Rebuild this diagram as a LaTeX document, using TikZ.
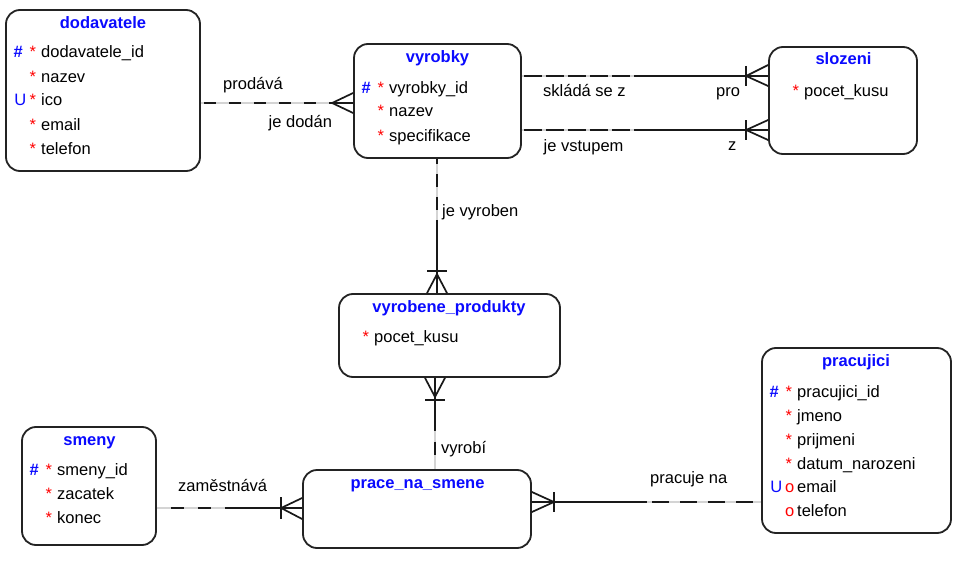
\documentclass[tikz,border=0pt]{standalone}
\usepackage{fontspec}
\setmainfont{Liberation Sans}
\usetikzlibrary{calc}
\definecolor{titleblue}{RGB}{10,10,255}
\definecolor{keyred}{RGB}{255,0,0}
\definecolor{boxline}{RGB}{35,35,35}
\definecolor{gapgray}{RGB}{212,212,212}
\begin{document}
\begin{tikzpicture}[x=1pt,y=-1pt,
  entity/.style={draw=boxline, line width=1.8pt, rounded corners=14pt, fill=white, inner sep=0pt},
  ttl/.style={anchor=base, inner sep=0pt, font=\fontsize{16.5}{20}\selectfont\bfseries, text=titleblue},
  attr/.style={anchor=base west, inner sep=0pt, font=\fontsize{16.5}{20}\selectfont},
  pk/.style={attr, text=titleblue},
  pkhash/.style={attr, text=titleblue, font=\fontsize{16.5}{20}\selectfont\bfseries},
  mand/.style={attr, text=keyred},
  lbl/.style={attr},
  rel/.style={line width=1.8pt, draw=black!90},
  gapline/.style={line width=1.8pt, draw=gapgray},
  foot/.style={line width=1.7pt, draw=black!90},
]
\useasboundingbox (0,0) rectangle (959,586);

% ---------- entities ----------
\node[entity, minimum width=194pt, minimum height=161pt] (dodavatele) at (103,90.5) {};
\node[entity, minimum width=167pt, minimum height=114pt] (vyrobky) at (437.5,101) {};
\node[entity, minimum width=148pt, minimum height=107pt] (slozeni) at (843,100.5) {};
\node[entity, minimum width=221pt, minimum height=83pt] (vyrobene_produkty) at (449.5,335.5) {};
\node[entity, minimum width=134pt, minimum height=118pt] (smeny) at (89,486) {};
\node[entity, minimum width=228pt, minimum height=78pt] (prace_na_smene) at (417,509) {};
\node[entity, minimum width=189pt, minimum height=185pt] (pracujici) at (856.5,440.5) {};

% dodavatele
\node[ttl] (dod-t) at (103,29) {dodavatele};
\foreach \t [count=\i] in {dodavatele\_id, nazev, ico, email, telefon}{
  \node[attr] (dod-a\i) at (41,34+24*\i) {\t};
  \node[mand] (dod-m\i) at (29.3,34+24*\i) {*};
}
\node[pkhash] (dod-k1) at (13.5,58) {\#};
\node[pk] (dod-u3) at (14.2,106) {U};

% vyrobky
\node[ttl] (vyr-t) at (437.5,62.3) {vyrobky};
\foreach \t [count=\i] in {vyrobky\_id, nazev, specifikace}{
  \node[attr] (vyr-a\i) at (389,69+24*\i) {\t};
  \node[mand] (vyr-m\i) at (377.3,69+24*\i) {*};
}
\node[pkhash] (vyr-k1) at (361.5,93) {\#};

% slozeni
\node[ttl] (slo-t) at (843.5,65) {slozeni};
\node[attr] (slo-a1) at (804,96) {pocet\_kusu};
\node[mand] (slo-m1) at (792.3,96) {*};

% vyrobene_produkty
\node[ttl] (vp-t) at (449,312) {vyrobene\_produkty};
\node[attr] (vp-a1) at (374,342) {pocet\_kusu};
\node[mand] (vp-m1) at (362.3,342) {*};

% smeny
\node[ttl] (sm-t) at (89.5,445) {smeny};
\foreach \t [count=\i] in {smeny\_id, zacatek, konec}{
  \node[attr] (sm-a\i) at (57,451+24*\i) {\t};
  \node[mand] (sm-m\i) at (45.3,451+24*\i) {*};
}
\node[pkhash] (sm-k1) at (29.5,475) {\#};

% prace_na_smene
\node[ttl] (pns-t) at (417.5,488) {prace\_na\_smene};

% pracujici
\node[ttl] (pr-t) at (856,366.5) {pracujici};
\foreach \t [count=\i] in {pracujici\_id, jmeno, prijmeni, datum\_narozeni}{
  \node[attr] (pr-a\i) at (797,373+24*\i) {\t};
  \node[mand] (pr-m\i) at (785.3,373+24*\i) {*};
}
\node[pkhash] (pr-k1) at (769.5,397) {\#};
\node[attr] (pr-a5) at (797,492.5) {email};
\node[mand] (pr-o5) at (784.8,492.5) {o};
\node[pk] (pr-u5) at (770.2,492.5) {U};
\node[attr] (pr-a6) at (797,516.5) {telefon};
\node[mand] (pr-o6) at (784.8,516.5) {o};

% ---------- relationships ----------
% dodavatele -- vyrobky (optional on both sides, many vyrobky)
\coordinate (r1s) at (dodavatele.east |- 0,103);
\coordinate (r1e) at (vyrobky.west |- 0,103);
\coordinate (r1a) at ($(r1e)+(-21,0)$);
\draw[gapline] (r1s) -- (r1a);
\draw[rel, dash pattern=on 12pt off 13pt, dash phase=-3pt] (r1s) -- (r1a);
\draw[foot] ($(r1e)+(0,-10)$) -- (r1a) -- ($(r1e)+(0,10)$) (r1a) -- (r1e);
\node[lbl] (l-prodava) at (223,90) {prodává};
\node[lbl] (l-jedodan) at (268.5,127) {je dodán};

% vyrobky -- slozeni (skládá se z / pro)
\coordinate (r2s) at (vyrobky.east |- 0,76);
\coordinate (r2e) at (slozeni.west |- 0,76);
\coordinate (r2m) at ($(r2s)!0.5!(r2e)$);
\coordinate (r2a) at ($(r2e)+(-22,0)$);
\draw[gapline] (r2s) -- (r2m);
\draw[rel, dash pattern=on 18pt off 4pt, dash phase=-2pt] (r2s) -- (r2m);
\draw[rel] (r2m) -- (r2e);
\draw[foot] ($(r2a)+(0,-10)$) -- ($(r2a)+(0,10)$);
\draw[foot] ($(r2e)+(0,-11)$) -- (r2a) -- ($(r2e)+(0,10)$);
\node[lbl] (l-sklada) at (543,96) {skládá se z};
\node[lbl] (l-pro) at (716,96) {pro};

% vyrobky -- slozeni (je vstupem / z)
\coordinate (r3s) at (vyrobky.east |- 0,130);
\coordinate (r3e) at (slozeni.west |- 0,130);
\coordinate (r3m) at ($(r3s)!0.5!(r3e)$);
\coordinate (r3a) at ($(r3e)+(-22,0)$);
\draw[gapline] (r3s) -- (r3m);
\draw[rel, dash pattern=on 18pt off 4pt, dash phase=-2pt] (r3s) -- (r3m);
\draw[rel] (r3m) -- (r3e);
\draw[foot] ($(r3a)+(0,-10)$) -- ($(r3a)+(0,10)$);
\draw[foot] ($(r3e)+(0,-10)$) -- (r3a) -- ($(r3e)+(0,10)$);
\node[lbl] (l-vstupem) at (543.5,151) {je vstupem};
\node[lbl] (l-z) at (728,150) {z};

% vyrobky -- vyrobene_produkty
\coordinate (r4s) at (vyrobky.south -| 437,0);
\coordinate (r4e) at (437,0 |- vyrobene_produkty.north);
\coordinate (r4m) at ($(r4s)!0.5!(r4e)$);
\coordinate (r4a) at ($(r4e)+(0,-22)$);
\draw[gapline] (r4s) -- (r4m);
\draw[rel, dash pattern=on 13pt off 10pt, dash phase=-15pt] (r4s) -- (r4m);
\draw[rel] (r4m) -- (r4e);
\draw[foot] ($(r4a)+(-10,0)$) -- ($(r4a)+(10,0)$);
\draw[foot] ($(r4e)+(-10,0)$) -- ($(r4a)+(0,3)$) -- ($(r4e)+(10,0)$);
\node[lbl] (l-vyroben) at (442,216) {je vyroben};

% vyrobene_produkty -- prace_na_smene
\coordinate (r5s) at (435,0 |- vyrobene_produkty.south);
\coordinate (r5e) at (435,0 |- prace_na_smene.north);
\coordinate (r5m) at ($(r5s)!0.5!(r5e)$);
\coordinate (r5a) at ($(r5s)+(0,22)$);
\draw[rel] (r5s) -- ($(r5m)+(0,7)$);
\draw[gapline] ($(r5m)+(0,7)$) -- (r5e);
\draw[rel, dash pattern=on 13pt off 15pt, dash phase=-11pt] ($(r5m)+(0,7)$) -- (r5e);
\draw[foot] ($(r5a)+(-10,0)$) -- ($(r5a)+(10,0)$);
\draw[foot] ($(r5s)+(-10,0)$) -- ($(r5a)+(0,-3)$) -- ($(r5s)+(10,0)$);
\node[lbl] (l-vyrobi) at (441,453) {vyrobí};

% smeny -- prace_na_smene
\coordinate (r6s) at (smeny.east |- 0,508);
\coordinate (r6e) at (prace_na_smene.west |- 0,508);
\coordinate (r6m) at (225,508);
\coordinate (r6a) at ($(r6e)+(-21,0)$);
\draw[gapline] (r6s) -- (r6m);
\draw[rel, dash pattern=on 13pt off 14pt, dash phase=-14pt] (r6s) -- (r6m);
\draw[rel] (r6m) -- (r6e);
\draw[foot] ($(r6a)+(0,-11)$) -- ($(r6a)+(0,11)$);
\draw[foot] ($(r6e)+(0,-10)$) -- (r6a) -- ($(r6e)+(0,11)$);
\node[lbl] (l-zamestnava) at (178,491) {zaměstnává};

% prace_na_smene -- pracujici
\coordinate (r7s) at (prace_na_smene.east |- 0,502);
\coordinate (r7e) at (pracujici.west |- 0,502);
\coordinate (r7m) at (647,502);
\coordinate (r7a) at ($(r7s)+(22,0)$);
\draw[rel] (r7s) -- (r7m);
\draw[gapline] (r7m) -- (r7e);
\draw[rel, dash pattern=on 17pt off 11pt, dash phase=-5pt] (r7m) -- (r7e);
\draw[foot] ($(r7a)+(0,-10)$) -- ($(r7a)+(0,10)$);
\draw[foot] ($(r7s)+(0,-10)$) -- (r7a) -- ($(r7s)+(0,10)$);
\node[lbl] (l-pracuje) at (650,483) {pracuje na};
\end{tikzpicture}
\end{document}
